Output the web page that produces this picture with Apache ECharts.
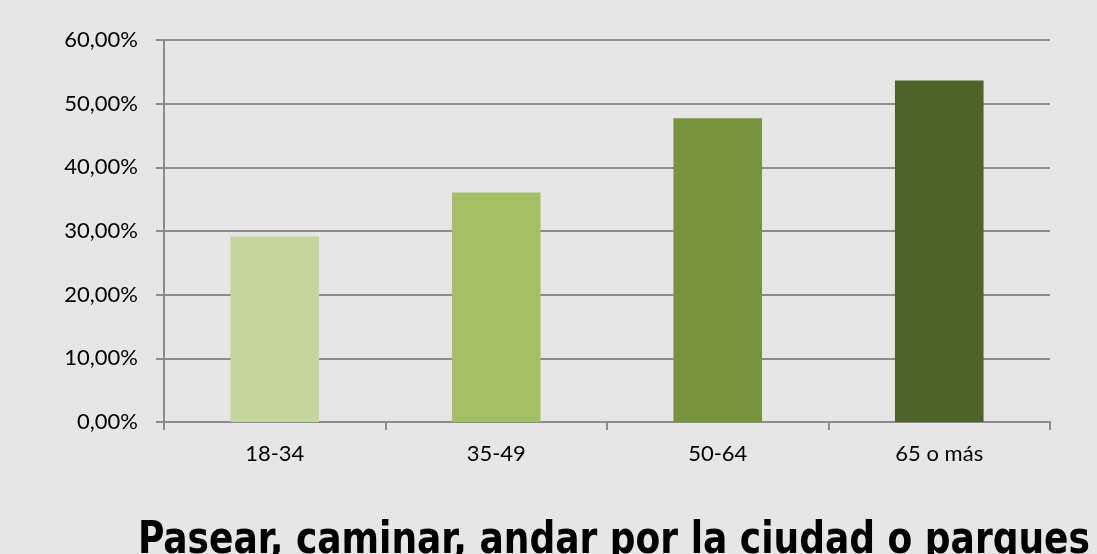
<!DOCTYPE html>
<html lang="es" style="height: 100%">

<head>
  <meta charset="utf-8">
</head>

<body style="height: 100%; margin: 0; background: #e6e6e6">
  <div id="container" style="height: 100%"></div>

  <script type="text/javascript" src="https://fastly.jsdelivr.net/npm/echarts@6.0.0/dist/echarts.min.js"></script>

  <script type="text/javascript">
    var categories = ['18-34', '35-49', '50-64', '65 o más'];
    var values = [29.15, 36.05, 47.7, 53.65];
    var barColors = ['#c4d69b', '#a2c064', '#77933c', '#4f6228'];
    var chartTitle = 'Pasear, caminar, andar por la ciudad o parques';

    var dom = document.getElementById('container');
    var myChart = echarts.init(dom, null, { renderer: 'canvas' });

    var labelFont = "Lato, 'Open Sans', sans-serif";
    var titleFont = "bold 44px 'DejaVu Sans Condensed', 'DejaVu Sans', sans-serif";

    // squeeze the title to the width it has in the original
    var ctx = document.createElement('canvas').getContext('2d');
    ctx.font = titleFont;
    var titleScale = 952 / ctx.measureText(chartTitle).width;

    var option = {
      backgroundColor: '#e6e6e6',
      graphic: [
        {
          type: 'text',
          x: 614,
          y: 520,
          scaleX: titleScale,
          style: {
            text: chartTitle,
            x: 0,
            y: 0,
            font: titleFont,
            fill: '#000',
            textAlign: 'center',
            textVerticalAlign: 'top'
          }
        }
      ],
      grid: {
        left: 164,
        right: 47,
        top: 40,
        bottom: 132
      },
      xAxis: {
        type: 'category',
        data: categories,
        axisLine: { lineStyle: { color: '#8c8c8c', width: 2 } },
        axisTick: { show: true, length: 8, lineStyle: { color: '#8c8c8c', width: 2 } },
        axisLabel: {
          margin: 21,
          fontSize: 22,
          fontFamily: labelFont,
          color: '#000'
        }
      },
      yAxis: {
        type: 'value',
        min: 0,
        max: 60,
        interval: 10,
        axisLine: { show: true, lineStyle: { color: '#8c8c8c', width: 2 } },
        axisTick: { show: true, length: 8, lineStyle: { color: '#8c8c8c', width: 2 } },
        splitLine: { lineStyle: { color: '#8c8c8c', width: 2 } },
        axisLabel: {
          margin: 26,
          fontSize: 22,
          fontFamily: labelFont,
          color: '#000',
          formatter: function (v) {
            return v.toFixed(2).replace('.', ',') + '%';
          }
        }
      },
      series: [
        {
          type: 'bar',
          barWidth: '40%',
          data: values.map(function (v, i) {
            return { value: v, itemStyle: { color: barColors[i] } };
          })
        }
      ]
    };

    myChart.setOption(option);
    window.addEventListener('resize', myChart.resize);
  </script>
</body>

</html>
